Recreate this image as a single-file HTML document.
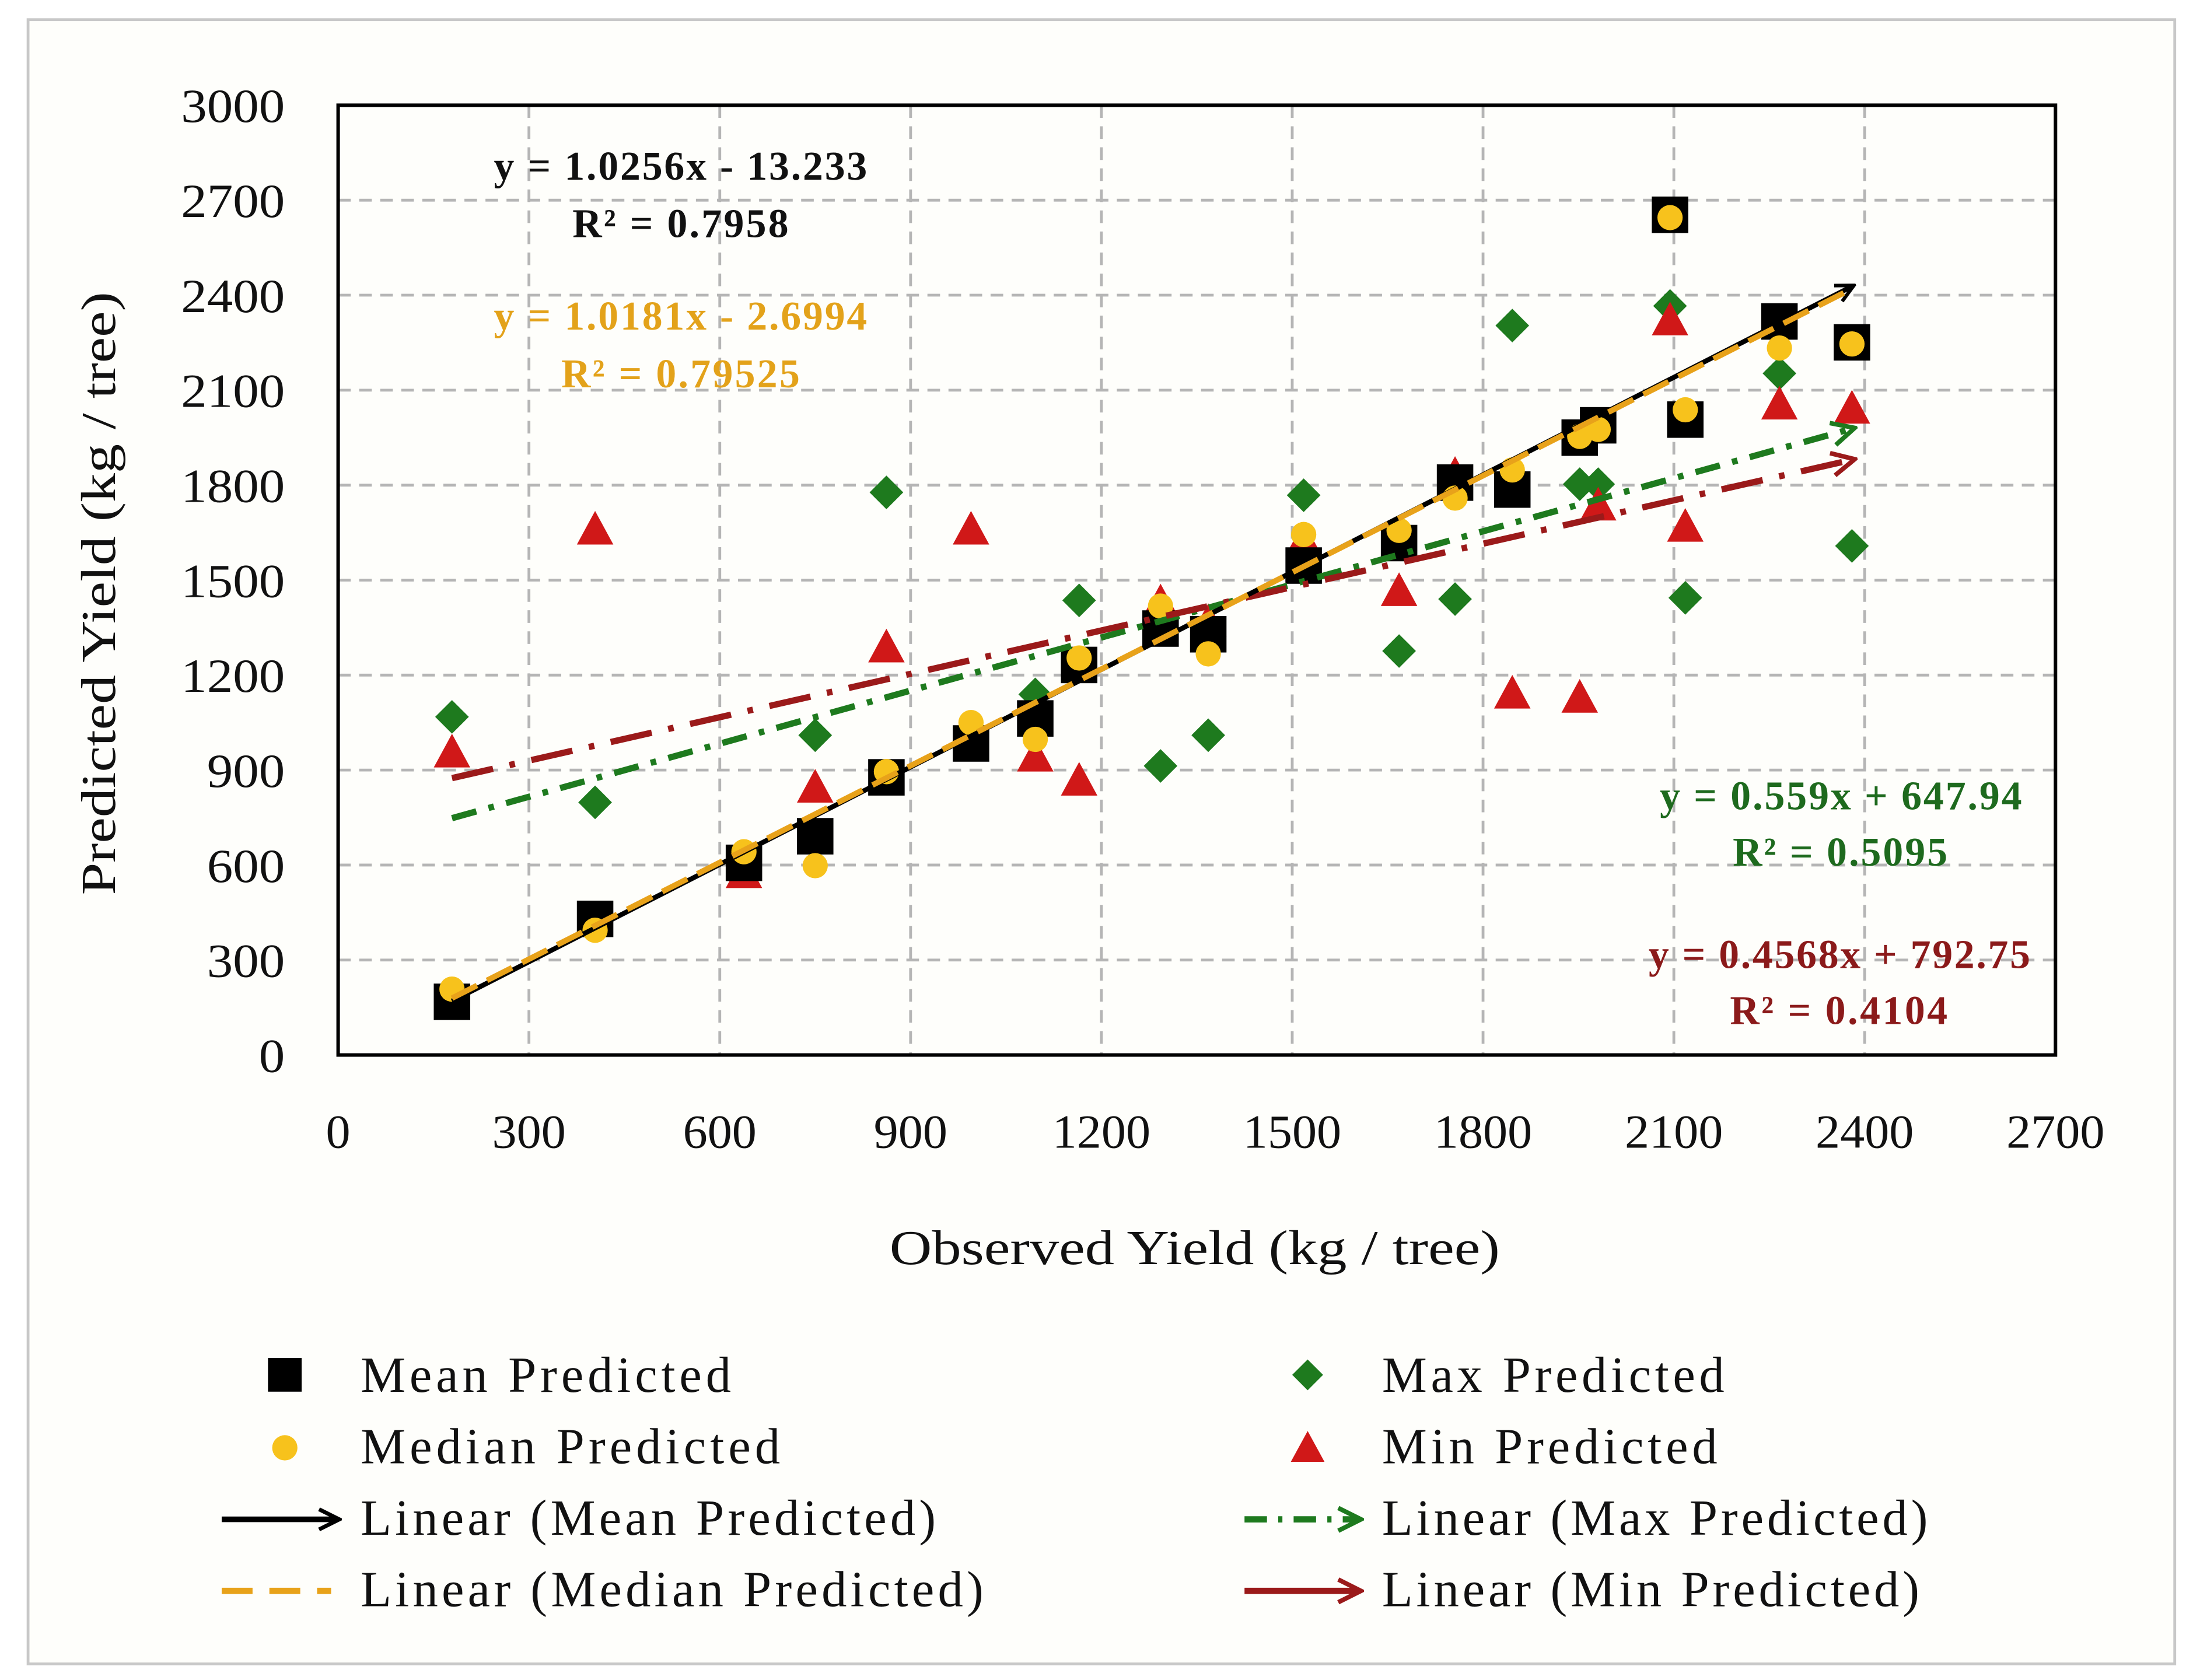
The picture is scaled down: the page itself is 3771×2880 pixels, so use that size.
<!DOCTYPE html>
<html><head><meta charset="utf-8"><style>
html,body{margin:0;padding:0;background:#fff}
svg{display:block}
text{font-family:"Liberation Serif",serif}
</style></head><body>
<svg id="chart" width="3771" height="2880" viewBox="0 0 1568 1197.5" xmlns="http://www.w3.org/2000/svg">
<defs>
<marker id="arrBlack" viewBox="0 0 10 10" refX="8" refY="5" markerWidth="4.5" markerHeight="4.5" orient="auto" markerUnits="strokeWidth"><path d="M1,1 L9,5 L1,9" fill="none" stroke="#000" stroke-width="1.6"/></marker>
<marker id="arrGreen" viewBox="0 0 10 10" refX="8" refY="5" markerWidth="4.5" markerHeight="4.5" orient="auto" markerUnits="strokeWidth"><path d="M1,1 L9,5 L1,9" fill="none" stroke="#1e7a1e" stroke-width="1.6"/></marker>
<marker id="arrRed" viewBox="0 0 10 10" refX="8" refY="5" markerWidth="4.5" markerHeight="4.5" orient="auto" markerUnits="strokeWidth"><path d="M1,1 L9,5 L1,9" fill="none" stroke="#9b1a1a" stroke-width="1.6"/></marker>
</defs>
<rect x="20" y="14" width="1530" height="1172" fill="#fefefb" stroke="#c8c8c8" stroke-width="2"/>
<g id="grid"></g>
<g id="marks"></g>
<g id="lines"></g>
<rect x="241" y="75" width="1224" height="677" fill="none" stroke="#000" stroke-width="2.5"/>
<g id="ticks" font-size="34" fill="#111"></g>
<text x="634" y="901" textLength="435" lengthAdjust="spacingAndGlyphs" font-size="35" fill="#111">Observed Yield (kg / tree)</text>
<text transform="translate(82,638) rotate(-90)" textLength="430" lengthAdjust="spacingAndGlyphs" font-size="35" fill="#111">Predicted Yield (kg / tree)</text>
<g font-size="29" font-weight="bold" lengthAdjust="spacingAndGlyphs">
<text x="352" y="128" textLength="266" fill="#111">y = 1.0256x - 13.233</text>
<text x="408" y="169" textLength="154" fill="#111">R² = 0.7958</text>
<text x="352" y="235" textLength="266" fill="#e3a21a">y = 1.0181x - 2.6994</text>
<text x="400" y="276" textLength="170" fill="#e3a21a">R² = 0.79525</text>
<text x="1183" y="577" textLength="258" fill="#1e6a1e">y = 0.559x + 647.94</text>
<text x="1235" y="617" textLength="153" fill="#1e6a1e">R² = 0.5095</text>
<text x="1175" y="690" textLength="272" fill="#8b1a1a">y = 0.4568x + 792.75</text>
<text x="1233" y="730" textLength="155" fill="#8b1a1a">R² = 0.4104</text>
</g>
<g font-size="36" fill="#111" lengthAdjust="spacingAndGlyphs">
<rect x="191" y="968" width="24" height="24" fill="#000"/>
<text x="257" y="992" textLength="264">Mean Predicted</text>
<circle cx="203" cy="1032" r="9" fill="#f7c21c"/>
<text x="257" y="1043" textLength="299">Median Predicted</text>
<line x1="158" y1="1083" x2="240" y2="1083" stroke="#000" stroke-width="4" marker-end="url(#arrBlack)"/>
<text x="257" y="1094" textLength="410">Linear (Mean Predicted)</text>
<line x1="158" y1="1134" x2="236" y2="1134" stroke="#e8a21a" stroke-width="4.5" stroke-dasharray="22,12"/>
<text x="257" y="1145" textLength="444">Linear (Median Predicted)</text>
<path d="M932,969 L943,980 L932,991 L921,980 Z" fill="#1e7a1e"/>
<text x="985" y="992" textLength="244">Max Predicted</text>
<path d="M932,1020 L944,1042 L920,1042 Z" fill="#d01818"/>
<text x="985" y="1043" textLength="239">Min Predicted</text>
<line x1="887" y1="1083" x2="968" y2="1083" stroke="#1e7a1e" stroke-width="4.5" stroke-dasharray="16,8,3,8" marker-end="url(#arrGreen)"/>
<text x="985" y="1094" textLength="389">Linear (Max Predicted)</text>
<line x1="887" y1="1134" x2="968" y2="1134" stroke="#9b1a1a" stroke-width="4.5" marker-end="url(#arrRed)"/>
<text x="985" y="1145" textLength="383">Linear (Min Predicted)</text>
</g>
</svg>
<script>
const observed=[179,404,638,750,862,995,1096,1165,1293,1368,1518,1668,1756,1846,1952,1981,2094,2118,2266,2380];
const meanPred=[168,430,607,691,877,984,1063,1232,1347,1329,1546,1617,1808,1786,1950,1989,2654,2007,2317,2251];
const medianPred=[208,394,642,598,895,1050,997,1254,1418,1267,1644,1657,1759,1848,1954,1976,2645,2038,2233,2246];
const maxPred=[1068,798,598,1010,1777,997,1139,1436,913,1010,1768,1276,1440,2304,1803,1803,2366,1444,2153,1608];
const minPred=[957,1661,576,846,1289,1661,944,868,1431,1369,1626,1467,1834,1143,1130,1737,2322,1670,2056,2043];
const xTicks=[0,300,600,900,1200,1500,1800,2100,2400,2700];
const yTicks=[0,300,600,900,1200,1500,1800,2100,2400,2700,3000];
const trendMean=[1.0256,-13.233];
const trendMedian=[1.0181,-2.6994];
const trendMax=[0.559,647.94];
const trendMin=[0.4568,792.75];
const NS='http://www.w3.org/2000/svg';
const X0=241,X1=1465,Y0=752,Y1=75;
const sx=v=>X0+(v/2700)*(X1-X0);
const sy=v=>Y0-(v/3000)*(Y0-Y1);
function mk(tag,attrs,parent){const e=document.createElementNS(NS,tag);for(const k in attrs)e.setAttribute(k,attrs[k]);parent.appendChild(e);return e;}
const grid=document.getElementById('grid'),ticks=document.getElementById('ticks'),marks=document.getElementById('marks'),lines=document.getElementById('lines');
xTicks.forEach(t=>{
  if(t>0&&t<2700){const l=mk('line',{x1:sx(t),x2:sx(t),y1:Y1,y2:Y0,stroke:'#b5b5b5','stroke-width':2,'stroke-dasharray':'9,6'},grid);
  
  }
  const tx=mk('text',{x:sx(t),y:818,'text-anchor':'middle','textLength':String(t).length*17.5,'lengthAdjust':'spacingAndGlyphs'},ticks);tx.textContent=t;
  
  
});
yTicks.forEach(t=>{
  if(t>0&&t<3000){const l=mk('line',{x1:X0,x2:X1,y1:sy(t),y2:sy(t),stroke:'#b5b5b5','stroke-width':2,'stroke-dasharray':'9,6'},grid);
  
  }
  const w=String(t).length*18.5;
  const tx=mk('text',{x:203-w,y:sy(t)+12,'textLength':w,'lengthAdjust':'spacingAndGlyphs'},ticks);tx.textContent=t;
  
  
});
observed.forEach((o,i)=>{
  const x=sx(o);
  let y=sy(maxPred[i]);
  const d=mk('path',{d:`M${x},${y-12} L${x+12},${y} L${x},${y+12} L${x-12},${y} Z`,fill:'#1e7a1e'},marks);
  
  
  y=sy(minPred[i]);
  const tr=mk('path',{d:`M${x},${y-13} L${x+13},${y+11} L${x-13},${y+11} Z`,fill:'#d01818'},marks);
  
  
});
observed.forEach((o,i)=>{
  const x=sx(o),y=sy(meanPred[i]);
  const r=mk('rect',{x:x-13,y:y-13,width:26,height:26,fill:'#000'},marks);
  
  
});
observed.forEach((o,i)=>{
  const c=mk('circle',{cx:sx(o),cy:sy(medianPred[i]),r:9,fill:'#f7c21c'},marks);
  
  
});
const xmin=Math.min(...observed),xmax=Math.max(...observed);
function trend(c,attrs,name){
  const l=mk('line',Object.assign({x1:sx(xmin),y1:sy(c[0]*xmin+c[1]),x2:sx(xmax),y2:sy(c[0]*xmax+c[1])},attrs),lines);
  
  
}
trend(trendMax,{stroke:'#1e7a1e','stroke-width':4.5,'stroke-dasharray':'18,9,4,9','marker-end':'url(#arrGreen)'},'max-trendline');
trend(trendMin,{stroke:'#9b1a1a','stroke-width':4.5,'stroke-dasharray':'30,12,4,12','marker-end':'url(#arrRed)'},'min-trendline');
trend(trendMean,{stroke:'#000','stroke-width':3.5,'marker-end':'url(#arrBlack)'},'mean-trendline');
trend(trendMedian,{stroke:'#e8a21a','stroke-width':4,'stroke-dasharray':'20,8'},'median-trendline');
</script>
</body></html>
